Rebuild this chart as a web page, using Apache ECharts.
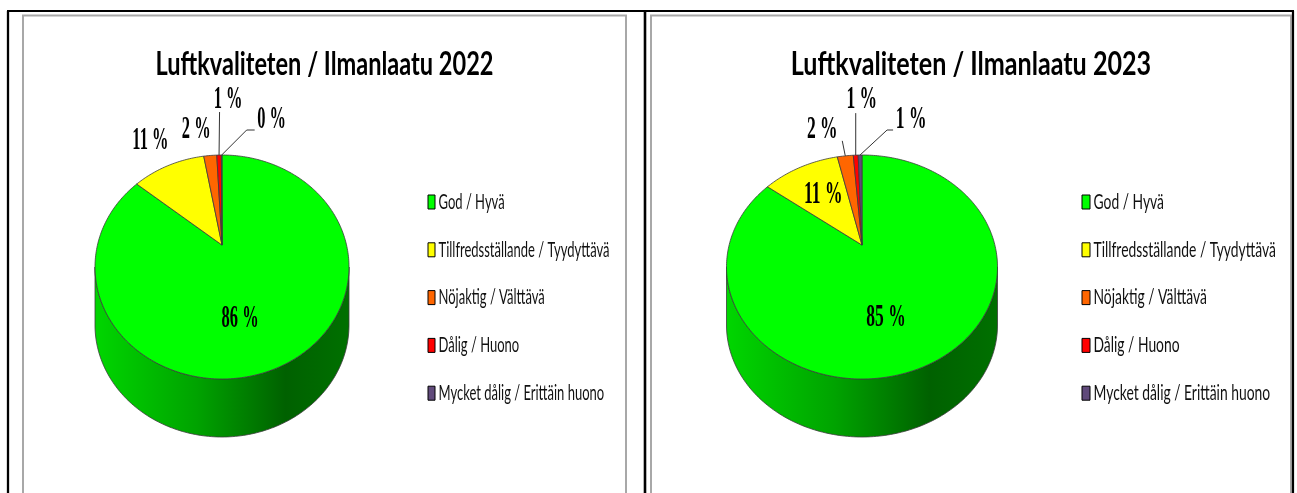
<!DOCTYPE html>
<html>
<head>
<meta charset="utf-8">
<title>Luftkvaliteten / Ilmanlaatu</title>
<script src="https://cdn.jsdelivr.net/npm/echarts@6/dist/echarts.min.js"></script>
<style>
  html, body { margin: 0; padding: 0; background: #fff; }
  #main { width: 1297px; height: 493px; }
</style>
</head>
<body>
<div id="main"></div>
<script>
// data
var categories = ['God / Hyvä', 'Tillfredsställande / Tyydyttävä', 'Nöjaktig / Välttävä', 'Dålig / Huono', 'Mycket dålig / Erittäin huono'];
var values2022 = [86.0, 11.2, 2.0, 0.7, 0.1];
var values2023 = [85.35, 11.1, 2.3, 0.7, 0.55];
var titles = ['Luftkvaliteten / Ilmanlaatu 2022', 'Luftkvaliteten / Ilmanlaatu 2023'];
var colors = ['#00ff00', '#ffff00', '#ff6600', '#ff0000', '#604a7b'];

var EDGE = '#3c3c3c';
var TITLE_FONT = 'bold 32px Lato';
var LEGEND_FONT = '21px Lato';
var LABEL_FONT = 'bold 31px "Liberation Serif"';

// the picture is squeezed horizontally, so texts are squeezed too
var mctx = document.createElement('canvas').getContext('2d');
function textWidth(s, font) { mctx.font = font; return mctx.measureText(s).width; }
var titleSX = 338 / textWidth(titles[0], TITLE_FONT);
var legendSX = 171 / textWidth(categories[1], LEGEND_FONT);
var labelSX = 37 / textWidth('86 %', LABEL_FONT);

// darker shade of a colour for the cylinder side
function shade(hex, f) {
  var c = echarts.color.parse(hex);
  return 'rgb(' + Math.round(c[0] * f) + ',' + Math.round(c[1] * f) + ',' + Math.round(c[2] * f) + ')';
}

// layout of the two panels (labels: inside -> r/da, outside -> dx/dy from the rim)
var panels = [
  {
    values: values2022, title: titles[0], titleX: 324.5,
    cx: 222, cy: 267, rx: 127, ry: 112, depth: 58, stretch: 1,
    legendX: 428, swatchW: 7,
    labels: [
      { r: 0.62, da: 13.3 },
      { dx: -18, dy: -24 },
      { dx: -14, dy: -25 },
      { dx: 9, dy: -55, line: [[0.5, -43]] },
      { dx: 50, dy: -35, line: [[25, -25], [33, -25]] }
    ]
  },
  {
    values: values2023, title: titles[1], titleX: 971,
    cx: 862, cy: 267, rx: 135.5, ry: 112, depth: 58, stretch: 1.066,
    legendX: 1082, swatchW: 8,
    labels: [
      { r: 0.62, da: 11.5 },
      { r: 0.6, da: 0.5 },
      { dx: -23, dy: -26, line: [[-3, -15]] },
      { dx: 6, dy: -55, line: [[0, -42]] },
      { dx: 51, dy: -35, line: [[27, -25], [33, -25]] }
    ]
  }
];

// perspective: the disc centre sits above the ellipse centre
var TILT = -0.196;
var T = Math.atanh(TILT), SH = Math.sinh(T), CH = Math.cosh(T);
var RAD = Math.PI / 180;

function project(p, phi, rho) {
  var x = rho * Math.sin(phi), y = -rho * Math.cos(phi);
  var w = y * SH + CH;
  return [p.cx + p.rx * x / w, p.cy + p.ry * (y * CH + SH) / w];
}
function arc(p, a0, a1, dy) {
  var pts = [], n = Math.max(2, Math.ceil((a1 - a0) / RAD));
  for (var k = 0; k <= n; k++) {
    var q = project(p, a0 + (a1 - a0) * k / n, 1);
    pts.push([q[0], q[1] + dy]);
  }
  return pts;
}

function makeRender(p) {
  var total = p.values.reduce(function (a, b) { return a + b; }, 0);
  return function (params, api) {
    var i = params.dataIndex;
    var start = 0;
    for (var k = 0; k < i; k++) start += p.values[k];
    var v = api.value(1);
    var a0 = start / total * 2 * Math.PI;
    var a1 = (start + v) / total * 2 * Math.PI;
    var color = colors[i];
    var children = [];

    // front side of the cylinder
    var f0 = Math.acos(TILT), f1 = 2 * Math.PI - f0;
    var s0 = Math.max(a0, f0), s1 = Math.min(a1, f1);
    if (s1 > s0) {
      var side = arc(p, s0, s1, 0).concat(arc(p, s0, s1, p.depth).reverse());
      children.push({
        type: 'polygon', z2: 1,
        shape: { points: side },
        style: {
          fill: new echarts.graphic.LinearGradient(p.cx - p.rx, 0, p.cx + p.rx, 0, [
            { offset: 0, color: shade(color, 0.84) },
            { offset: 0.4, color: shade(color, 0.64) },
            { offset: 0.75, color: shade(color, 0.38) },
            { offset: 1, color: shade(color, 0.44) }
          ], true),
          stroke: EDGE, lineWidth: 0.8
        }
      });
    }

    // top face
    var apex = project(p, 0, 0);
    children.push({
      type: 'polygon', z2: 2,
      shape: { points: [apex].concat(arc(p, a0, a1, 0)) },
      style: { fill: color, stroke: EDGE, lineWidth: 0.8 }
    });

    // data label
    var lab = p.labels[i], lx, ly;
    var mid = (a0 + a1) / 2;
    if (lab.r != null) {
      var q = project(p, mid + lab.da * RAD, lab.r);
      lx = q[0]; ly = q[1];
    } else {
      var rim = project(p, mid, 1);
      lx = rim[0] + lab.dx; ly = rim[1] + lab.dy;
      if (lab.line) {
        var pts = [rim].concat(lab.line.map(function (d) { return [rim[0] + d[0], rim[1] + d[1]]; }));
        children.push({
          type: 'polyline', z2: 4,
          shape: { points: pts },
          style: { stroke: '#333', lineWidth: 1, fill: null }
        });
      }
    }
    children.push({
      type: 'text', z2: 5, x: lx, y: ly, scaleX: labelSX * p.stretch,
      style: {
        text: Math.round(v / total * 100) + ' %', font: LABEL_FONT, fill: '#000',
        align: 'center', verticalAlign: 'middle', textAlign: 'center', textVerticalAlign: 'middle'
      }
    });

    // legend entry
    var rowY = 202 + i * 47.8;
    children.push({
      type: 'rect', z2: 5,
      shape: { x: p.legendX, y: rowY - 7, width: p.swatchW, height: 14 },
      style: { fill: color, stroke: '#000', lineWidth: 1 }
    });
    children.push({
      type: 'text', z2: 5, x: p.legendX + p.swatchW + 3.5, y: rowY, scaleX: legendSX * p.stretch,
      style: {
        text: categories[i], font: LEGEND_FONT, fill: '#111',
        align: 'left', verticalAlign: 'middle', textAlign: 'left', textVerticalAlign: 'middle'
      }
    });

    return { type: 'group', children: children };
  };
}

function vline(x, lw, color) {
  return { type: 'line', shape: { x1: x, y1: 11, x2: x, y2: 493 }, style: { stroke: color, lineWidth: lw } };
}
function grayFrame(x0, x1) {
  return {
    type: 'polyline',
    shape: { points: [[x0, 493], [x0, 15.5], [x1, 15.5], [x1, 493]] },
    style: { stroke: '#a8a8a8', lineWidth: 2, fill: null }
  };
}

var graphic = [
  grayFrame(23, 626),
  grayFrame(651, 1291),
  { type: 'line', shape: { x1: 7, y1: 11, x2: 1294, y2: 11 }, style: { stroke: '#000', lineWidth: 2 } },
  vline(8, 2.3, '#000'),
  vline(645, 2.6, '#000'),
  vline(1293, 2.2, '#000')
];
panels.forEach(function (p) {
  graphic.push({
    type: 'text', x: p.titleX, y: 65, scaleX: titleSX * p.stretch,
    style: {
      text: p.title, font: TITLE_FONT, fill: '#000',
      align: 'center', verticalAlign: 'middle', textAlign: 'center', textVerticalAlign: 'middle'
    }
  });
});

var chart = echarts.init(document.getElementById('main'));
chart.setOption({
  animation: false,
  backgroundColor: '#fff',
  graphic: graphic,
  series: panels.map(function (p) {
    return {
      type: 'custom',
      coordinateSystem: 'none',
      renderItem: makeRender(p),
      data: p.values.map(function (v, i) { return [i, v]; })
    };
  })
});
</script>
</body>
</html>
